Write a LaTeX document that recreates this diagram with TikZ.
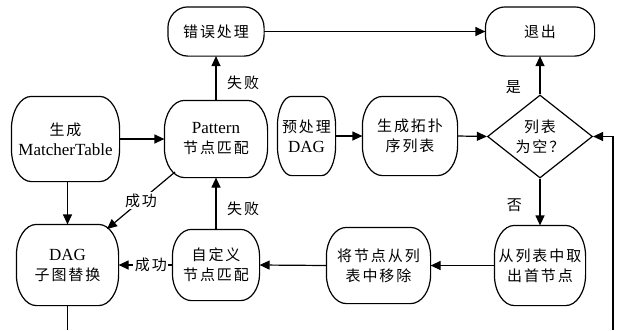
\documentclass[tikz,border=0pt]{standalone}
\usepackage{fontspec}
\setmainfont{Liberation Serif}
\newfontfamily\cjk[LetterSpace=13]{Noto Sans CJK SC}
\usetikzlibrary{arrows.meta,shapes.geometric}
\newcommand\latn[1]{{\rmfamily\fontsize{17}{20}\selectfont #1}}
\newcommand\cjkf{\fontsize{15}{20}\selectfont\cjk}
% outline with elliptical corners: node, x radius, y radius
\newcommand\eout[3]{%
  \draw ([xshift=#2]#1.north west) -- ([xshift=-#2]#1.north east)
    arc[start angle=90,end angle=0,x radius=#2,y radius=#3]
    -- ([yshift=#3]#1.south east)
    arc[start angle=0,end angle=-90,x radius=#2,y radius=#3]
    -- ([xshift=#2]#1.south west)
    arc[start angle=270,end angle=180,x radius=#2,y radius=#3]
    -- ([yshift=-#3]#1.north west)
    arc[start angle=180,end angle=90,x radius=#2,y radius=#3] -- cycle;}
\tikzset{
  box/.style={inner sep=0pt, align=center, font=\cjkf},
  dia/.style={draw, shape=diamond, inner sep=0pt, align=center, font=\cjkf},
  lab/.style={font=\cjkf, inner sep=1.5pt}
}
\begin{document}
\begin{tikzpicture}[x=1pt,y=-1pt,line width=1.2pt,>={Triangle[length=10pt,width=9pt]}]
\useasboundingbox (0,0) rectangle (621,330);
\node[box, minimum width=95pt, minimum height=48pt] (err) at (216,31.5) {错误处理};
\node[box, minimum width=108pt, minimum height=48pt] (quit) at (540,31.5) {退出};
\node[box, minimum width=107pt, minimum height=84pt] (mt) at (65.5,139) {生成\\\latn{MatcherTable}};
\node[box, minimum width=102pt, minimum height=76pt] (pat) at (216,139) {\latn{Pattern}\\节点匹配};
\node[box, minimum width=57pt, minimum height=78pt] (pre) at (306.5,136) {预处理\\\latn{DAG}};
\node[box, minimum width=94pt, minimum height=78pt] (topo) at (410,136) {生成拓扑\\序列表};
\node[dia, minimum width=105pt, minimum height=83pt] (dia) at (540,136.5) {列表\\为空？};
\node[box, minimum width=90pt, minimum height=79pt] (take) at (540,265.5) {从列表中取\\出首节点};
\node[box, minimum width=103pt, minimum height=75pt] (rm) at (378.5,265.5) {将节点从列\\表中移除};
\node[box, minimum width=86pt, minimum height=70pt] (cust) at (216,265) {自定义\\节点匹配};
\node[box, minimum width=101pt, minimum height=80pt] (dag) at (67.5,265) {\latn{DAG}\\子图替换};

\eout{err}{20pt}{21pt}
\eout{quit}{20pt}{21pt}
\eout{mt}{20pt}{33pt}
\eout{pat}{20pt}{30pt}
\eout{pre}{14pt}{30pt}
\eout{topo}{20pt}{30pt}
\eout{take}{20pt}{31pt}
\eout{rm}{20pt}{29pt}
\eout{cust}{19pt}{27pt}
\eout{dag}{20pt}{31pt}

\coordinate (p1) at ([shift={(-41,33)}]pat.center);
\coordinate (d1) at ([shift={(39.5,-36)}]dag.center);
\coordinate (r0) at (613,330);
\coordinate (b0) at (67.5,330);

\draw[->] (mt.east) -- (pat.west);
\draw[->] (pat.north) -- node[lab, anchor=west, pos=0.4, xshift=9pt] {失败} (err.south);
\draw[->] (err.east) -- (quit.west);
\draw[->] (pre.east) -- (topo.west);
\draw[->] (topo.east) -- (dia.west);
\draw[->] (dia.north) -- node[lab, anchor=east, pos=0.18, xshift=-17pt] {是} (quit.south);
\draw[->] (dia.south) -- node[lab, anchor=east, pos=0.56, xshift=-16pt] {否} (take.north);
\draw[->] (take.west) -- (rm.east);
\draw[->] (rm.west) -- (cust.east);
\draw[->] (cust.west) -- node[lab, fill=white, pos=0.4] {成功} (dag.east);
\draw[->] (cust.north) -- node[lab, anchor=west, pos=0.4, xshift=9pt] {失败} (pat.south);
\draw[->] (p1) -- node[lab, fill=white] {成功} (d1);
\draw[->] (dag.north |- mt.south) -- (dag.north);
\draw (dag.south) -- (b0);
\draw[->] (r0) |- (dia.east);
\end{tikzpicture}
\end{document}
